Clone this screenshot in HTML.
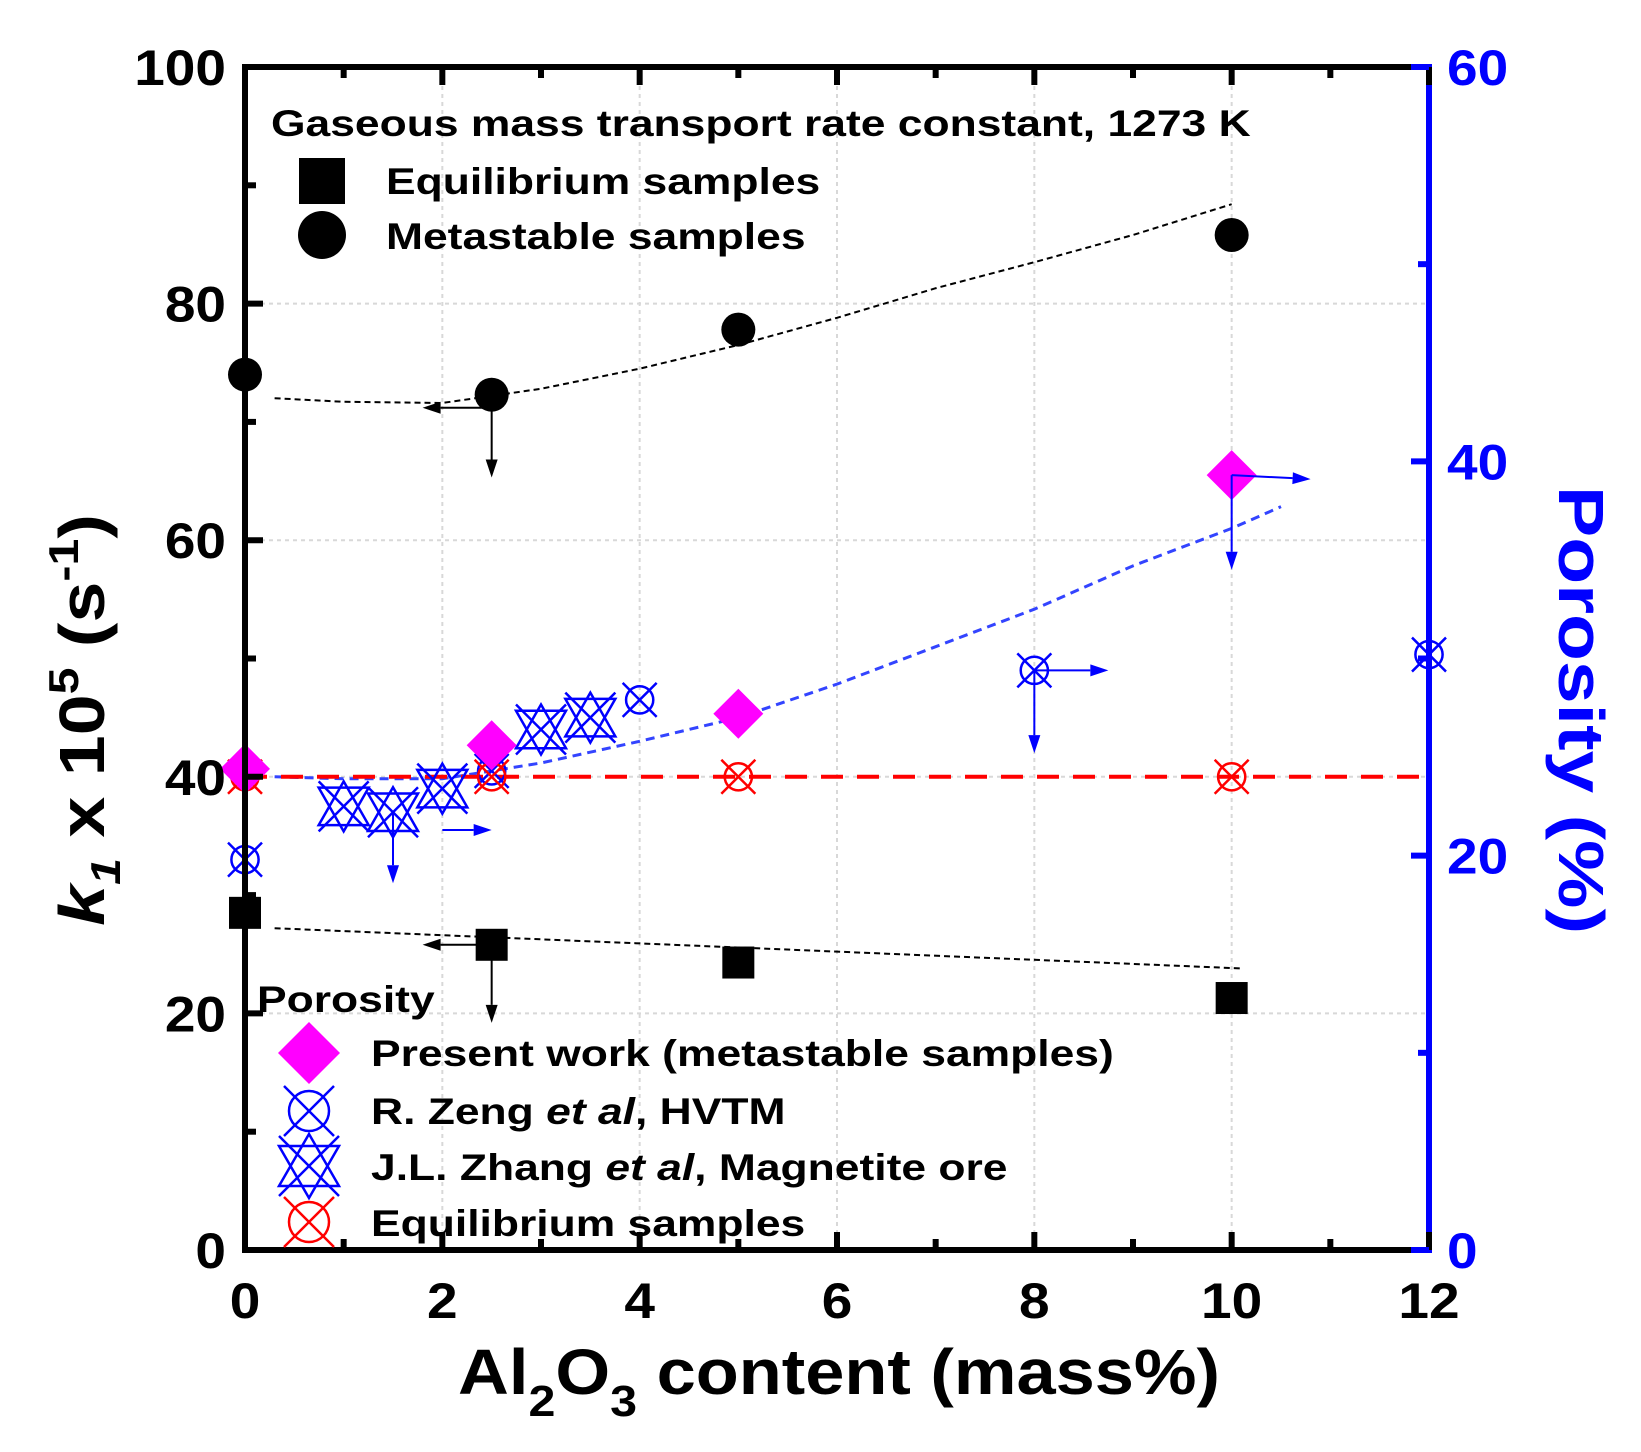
<!DOCTYPE html>
<html><head><meta charset="utf-8"><style>
html,body{margin:0;padding:0;background:#fff;}
svg{display:block;font-family:"Liberation Sans",Arial,sans-serif;}
</style></head><body>
<svg id="chart" width="1641" height="1452" viewBox="0 0 1641 1452" xmlns="http://www.w3.org/2000/svg">
<g id="grid"></g>
<g id="fits"></g>
<g id="marks"></g>
<g id="axes"></g>
<g id="legend">
<text class="w12" x="271" y="136" font-size="37" font-weight="bold">Gaseous mass transport rate constant, 1273 K</text>
<rect x="299" y="158" width="46" height="46" fill="#000"/>
<text class="w12" x="386" y="194" font-size="37" font-weight="bold">Equilibrium samples</text>
<circle cx="322" cy="235" r="24" fill="#000"/>
<text class="w12" x="386" y="249" font-size="37" font-weight="bold">Metastable samples</text>
<text class="w12" x="257" y="1012" font-size="37" font-weight="bold">Porosity</text>
<polygon points="309,1022 340,1053 309,1084 278,1053" fill="#ff00ff"/>
<text class="w12" x="371" y="1066" font-size="37" font-weight="bold">Present work (metastable samples)</text>
<g stroke="#0000ff" stroke-width="2.5" fill="none"><circle cx="309" cy="1111" r="20"/><line x1="284" y1="1086" x2="334" y2="1136"/><line x1="334" y1="1086" x2="284" y2="1136"/></g>
<text class="w12" x="371" y="1124" font-size="37" font-weight="bold">R. Zeng <tspan font-style="italic">et al</tspan>, HVTM</text>
<g stroke="#0000ff" stroke-width="2.5" fill="none"><polygon points="309,1134 339,1186 279,1186"/><polygon points="309,1198 339,1146 279,1146"/><line x1="279" y1="1136" x2="339" y2="1196"/><line x1="339" y1="1136" x2="279" y2="1196"/></g>
<text class="w12" x="371" y="1180" font-size="37" font-weight="bold">J.L. Zhang <tspan font-style="italic">et al</tspan>, Magnetite ore</text>
<g stroke="#ff0000" stroke-width="2.5" fill="none"><circle cx="309" cy="1222" r="20"/><line x1="284" y1="1197" x2="334" y2="1247"/><line x1="334" y1="1197" x2="284" y2="1247"/></g>
<text class="w12" x="371" y="1236" font-size="37" font-weight="bold">Equilibrium samples</text>
</g>
<text class="w11" x="839" y="1394" font-size="64" font-weight="bold" text-anchor="middle">Al<tspan font-size="44" dy="22">2</tspan><tspan dy="-22">O</tspan><tspan font-size="44" dy="22">3</tspan><tspan dy="-22"> content (mass%)</tspan></text>
<text class="w115" transform="translate(104,720) rotate(-90)" font-size="64" font-weight="bold" text-anchor="middle"><tspan font-style="italic">k</tspan><tspan font-size="42" font-style="italic" dy="16">1</tspan><tspan dy="-16"> x 10</tspan><tspan font-size="42" dy="-26">5</tspan><tspan dy="26"> (s</tspan><tspan font-size="42" dy="-26">-1</tspan><tspan dy="26">)</tspan></text>
<text class="w12" transform="translate(1559,710) rotate(90)" font-size="64" font-weight="bold" fill="#0000ff" text-anchor="middle">Porosity (%)</text>
</svg>
<script>
const xTicks=[0,2,4,6,8,10,12];
const yTicks=[0,20,40,60,80,100];
const y2Ticks=[0,20,40,60];
const metaX=[0,2.5,5,10];
const metaK=[74,72.3,77.8,85.8];
const eqX=[0,2.5,5,10];
const eqK=[28.5,25.8,24.3,21.3];
const metaFitX=[0.3,1,2,3,4,5,6,7,8,9,10];
const metaFitK=[72,71.7,71.6,72.8,74.5,76.5,78.8,81.3,83.5,85.8,88.4];
const eqFitX=[0.3,10.1];
const eqFitK=[27.2,23.8];
const presentX=[0,2.5,5,10];
const presentP=[24.4,25.6,27.2,39.3];
const eqPorX=[0,2.5,5,10];
const eqPorP=[24,24,24,24];
const zengX=[0,2.5,4,8,12];
const zengP=[19.8,24.3,27.9,29.4,30.2];
const zhangX=[1,1.5,2,3,3.5];
const zhangP=[22.5,22.2,23.4,26.4,27];
const porFitX=[0.3,1,2,3,4,5,6,7,8,9,10,10.5];
const porFitP=[24,23.9,23.9,24.7,25.8,27,28.7,30.6,32.5,34.7,36.6,37.7];
const NS="http://www.w3.org/2000/svg";
const X0=245,X1=1429,Y0=1250,Y1=67;
const xs=v=>X0+(v/12)*(X1-X0);
const ys=v=>Y0-(v/100)*(Y0-Y1);
const y2s=v=>Y0-(v/60)*(Y0-Y1);
function mk(tag,parent,attrs){const e=document.createElementNS(NS,tag);for(const k in attrs)e.setAttribute(k,attrs[k]);document.getElementById(parent).appendChild(e);return e;}
xTicks.slice(1,-1).forEach(t=>{const l=mk('line','grid',{x1:xs(t),x2:xs(t),y1:Y0,y2:Y1,stroke:'#d8d8d8','stroke-width':2,'stroke-dasharray':'4,4'});

});
yTicks.slice(1,-1).forEach(t=>{const l=mk('line','grid',{x1:X0,x2:X1,y1:ys(t),y2:ys(t),stroke:'#d8d8d8','stroke-width':2,'stroke-dasharray':'4,4'});

});
function path(xa,ya,f){return xa.map((x,i)=>(i?'L':'M')+xs(x)+','+f(ya[i])).join(' ');}
let p=mk('path','fits',{d:path(metaFitX,metaFitK,ys),fill:'none',stroke:'#000','stroke-width':2,'stroke-dasharray':'6,4'});


p=mk('path','fits',{d:path(eqFitX,eqFitK,ys),fill:'none',stroke:'#000','stroke-width':2,'stroke-dasharray':'6,4'});


p=mk('path','fits',{d:path(porFitX,porFitP,y2s),fill:'none',stroke:'#3344ff','stroke-width':3,'stroke-dasharray':'9,6'});


p=mk('line','fits',{x1:X0,x2:X1,y1:y2s(eqPorP[0]),y2:y2s(eqPorP[0]),stroke:'#ff0000','stroke-width':4,'stroke-dasharray':'22,14'});


function xcircle(cx,cy,r,col,name){const g=mk('g','marks',{stroke:col,'stroke-width':2.5,fill:'none'});


const c=document.createElementNS(NS,'circle');c.setAttribute('cx',cx);c.setAttribute('cy',cy);c.setAttribute('r',r*0.8);g.appendChild(c);
[[-1,-1,1,1],[1,-1,-1,1]].forEach(a=>{const l=document.createElementNS(NS,'line');l.setAttribute('x1',cx+a[0]*r);l.setAttribute('y1',cy+a[1]*r);l.setAttribute('x2',cx+a[2]*r);l.setAttribute('y2',cy+a[3]*r);g.appendChild(l);});}
zhangX.forEach((x,i)=>{const cx=xs(x),cy=y2s(zhangP[i]),r=25;const g=mk('g','marks',{stroke:'#0000ff','stroke-width':2.5,fill:'none'});


g.innerHTML=`<polygon points="${cx},${cy-r} ${cx+r},${cy+r*0.75} ${cx-r},${cy+r*0.75}"/><polygon points="${cx},${cy+r} ${cx+r},${cy-r*0.75} ${cx-r},${cy-r*0.75}"/><line x1="${cx-r}" y1="${cy-r}" x2="${cx+r}" y2="${cy+r}"/><line x1="${cx+r}" y1="${cy-r}" x2="${cx-r}" y2="${cy+r}"/>`;});
zengX.forEach((x,i)=>xcircle(xs(x),y2s(zengP[i]),17,'#0000ff','zeng-point'));
eqPorX.forEach((x,i)=>xcircle(xs(x),y2s(eqPorP[i]),17,'#ff0000','equilibrium-porosity-point'));
presentX.forEach((x,i)=>{const cx=xs(x),cy=y2s(presentP[i]),r=25;const d=mk('polygon','marks',{points:`${cx},${cy-r} ${cx+r},${cy} ${cx},${cy+r} ${cx-r},${cy}`,fill:'#ff00ff'});

});
metaX.forEach((x,i)=>{const c=mk('circle','marks',{cx:xs(x),cy:ys(metaK[i]),r:17,fill:'#000'});

});
eqX.forEach((x,i)=>{const c=mk('rect','marks',{x:xs(x)-16,y:ys(eqK[i])-16,width:32,height:32,fill:'#000'});

});
function arrow(x1,y1,x2,y2,col){const g=mk('g','marks',{stroke:col,fill:col,'stroke-width':2});


const dx=x2-x1,dy=y2-y1,L=Math.hypot(dx,dy),ux=dx/L,uy=dy/L,h=18,w=6;
g.innerHTML=`<line x1="${x1}" y1="${y1}" x2="${x2-ux*h}" y2="${y2-uy*h}"/><polygon stroke="none" points="${x2},${y2} ${x2-ux*h-uy*w},${y2-uy*h+ux*w} ${x2-ux*h+uy*w},${y2-uy*h-ux*w}"/>`;}
arrow(xs(2.5),ys(71.2),xs(1.8),ys(71.2),'#000');
arrow(xs(2.5),ys(72.3),xs(2.5),ys(65.3),'#000');
arrow(xs(2.5),ys(25.8),xs(1.8),ys(25.8),'#000');
arrow(xs(2.5),ys(25.8),xs(2.5),ys(19.2),'#000');
arrow(xs(1.5),y2s(22.2),xs(1.5),y2s(18.6),'#0000ff');
arrow(xs(2),y2s(21.3),xs(2.5),y2s(21.3),'#0000ff');
arrow(xs(8),y2s(29.4),xs(8.75),y2s(29.4),'#0000ff');
arrow(xs(8),y2s(29.4),xs(8),y2s(25.2),'#0000ff');
arrow(xs(10),y2s(39.3),xs(10.8),y2s(39.1),'#0000ff');
arrow(xs(10),y2s(39.3),xs(10),y2s(34.5),'#0000ff');
let a=mk('polyline','axes',{points:`${X1},${Y1} ${X0},${Y1} ${X0},${Y0} ${X1},${Y0}`,fill:'none',stroke:'#000','stroke-width':6});


a=mk('line','axes',{x1:X1,x2:X1,y1:Y1-3,y2:Y0+3,stroke:'#0000ff','stroke-width':6});


for(let v=0;v<=12;v++){const big=v%2==0;const l=mk('line','axes',{x1:xs(v),x2:xs(v),y1:Y0,y2:Y0-(big?18:11),stroke:'#000','stroke-width':6});


const l2=mk('line','axes',{x1:xs(v),x2:xs(v),y1:Y1,y2:Y1+(big?18:11),stroke:'#000','stroke-width':6});

}
for(let v=0;v<=100;v+=10){const big=v%20==0;const l=mk('line','axes',{x1:X0,x2:X0+(big?18:11),y1:ys(v),y2:ys(v),stroke:'#000','stroke-width':6});

}
for(let v=0;v<=60;v+=10){const big=v%20==0;const l=mk('line','axes',{x1:X1,x2:X1-(big?18:11),y1:y2s(v),y2:y2s(v),stroke:'#0000ff','stroke-width':6});

}
xTicks.forEach(t=>{const e=mk('text','axes',{x:xs(t),y:1318,'font-size':50,'font-weight':'bold','text-anchor':'middle','class':'w11'});e.textContent=t;

});
yTicks.forEach(t=>{const e=mk('text','axes',{x:226,y:ys(t)+18,'font-size':50,'font-weight':'bold','text-anchor':'end','class':'w11'});e.textContent=t;

});
y2Ticks.forEach(t=>{const e=mk('text','axes',{x:1447,y:y2s(t)+18,'font-size':50,'font-weight':'bold',fill:'#0000ff','class':'w11'});e.textContent=t;

});
const widen={w11:1.1,w115:1.15,w12:1.2};
for(const c in widen){document.querySelectorAll('text.'+c).forEach(t=>{const L=t.getComputedTextLength();t.setAttribute('textLength',L*widen[c]);t.setAttribute('lengthAdjust','spacingAndGlyphs');});}
</script>
</body></html>
